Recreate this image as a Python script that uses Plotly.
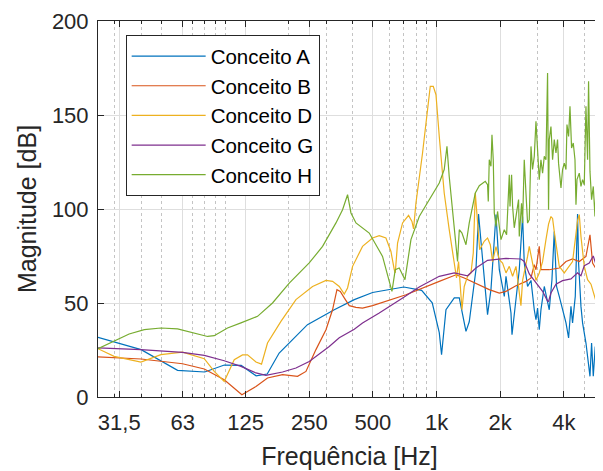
import math
import plotly.graph_objects as go

# ---------------- data ----------------
freq_A = [25, 40, 59.5, 80, 99, 119, 140, 158, 180, 245, 328, 408, 498, 700, 850, 954, 1030, 1056, 1108, 1213, 1281,
          1378, 1428, 1536, 1580, 1651, 1743, 1809, 1911, 1981, 2092, 2131, 2250, 2275, 2376, 2463, 2553, 2600, 2696,
          2798, 2900, 2954, 3006, 3062, 3119, 3234, 3414, 3516, 3606, 3697, 3807, 3947, 4097, 4215, 4325, 4401, 4533,
          4648, 4699, 4823, 4909, 5093, 5240, 5321, 5415, 5516, 5636, 5779, 5888, 5998]
mag_A = [31.7, 25.2, 14.2, 13.3, 17.0, 16.8, 11.3, 12.2, 23.4, 38.5, 46.4, 51.8, 55.6, 58.5, 56.7, 50.1, 34.2, 22.5, 46.4, 52.7, 52.7,
         34.9, 40.0, 67.7, 97.3, 71.3, 43.8, 57.1, 97.0, 67.7, 53.5, 64.2, 44.7, 33.1, 53.5, 67.7, 96.0, 71.3, 58.8,
         62.0, 46.4, 41.1, 47.3, 35.8, 46.4, 58.8, 46.4, 62.4, 88.0, 58.8, 53.5, 46.4, 39.4, 31.4, 48.2, 39.4, 53.5,
         97.3, 71.3, 48.2, 39.4, 28.7, 18.1, 11.0, 28.7, 11.0, 26.9, 13.6, 35.8, 34.0]

freq_B = [25, 40, 62.8, 79.6, 98.9, 119.9, 139.8, 158.5, 186.7, 219.9, 241, 268.7, 299.7, 322, 337.8, 350.3, 365.8,
          386.3, 415.6, 446.4, 497.8, 716.5, 1030, 1236, 1352, 1536, 1776, 1981, 2131, 2376, 2649, 2798, 2900, 2954,
          3062, 3119, 3414, 3807, 4097, 4401, 4735, 5093, 5321, 5474, 5779, 5888, 5933, 5998]
mag_B = [21.3, 20.2, 17.7, 14.9, 9.2, 1.2, 5.6, 10.1, 11.9, 11.0, 13.6, 25.2, 35.8, 46.4, 57.1, 56.2, 52.7,
         48.6, 47.7, 47.3, 48.6, 54.4, 61.5, 65.0, 63.3, 60.6, 57.1, 55.3, 56.2, 59.2, 61.5, 63.3, 70.4, 67.7,
         80.1, 67.7, 67.7, 68.6, 72.1, 73.4, 72.1, 74.8, 86.3, 71.3, 66.8, 81.9, 99.6, 90.0]

freq_D = [25, 29.8, 39.9, 49.6, 62.8, 79.6, 88.7, 98.9, 110.3, 120.7, 127.5, 139.8, 148.5, 158.5, 183.5, 216.1, 259,
          299.7, 322, 346.4, 365.8, 379.2, 400.5, 446.4, 497.8, 535.6, 576.1, 608.4, 630.7, 637.6, 653.8, 690.5, 737.1,
          764.9, 778.4, 798.9, 858.4, 906.6, 933.6, 964.7, 993.6, 1030, 1087, 1148, 1213, 1243, 1271, 1305, 1319, 1352,
          1402, 1455, 1492, 1525, 1563, 1600, 1681, 1743, 1796, 1841, 1911, 1981, 2053, 2131, 2209, 2290, 2376, 2444,
          2508, 2553, 2649, 2696, 2746, 2846, 2954, 3062, 3175, 3294, 3388, 3478, 3540, 3606, 3697, 3807, 4021, 4246,
          4401, 4533, 4648, 4735, 4823, 5000, 5183, 5380, 5577, 5680, 5779, 5888, 5998]
mag_D = [25.7, 21.6, 18.6, 22.5, 23.9, 20.4, 13.6, 8.3, 19.8, 22.4, 22.4, 18.6, 17.5, 28.7, 40.2, 51.8, 58.8,
         62.0, 61.5, 58.8, 54.8, 58.0, 69.5, 80.1, 84.6, 85.8, 84.6, 77.4, 67.7, 66.0, 81.9, 92.6, 96.6,
         93.4, 89.4, 103.2, 129.8, 154.6, 165.2, 165.2, 160.8, 138.6, 108.5, 89.0, 69.5, 63.3, 72.1, 57.1, 46.4, 58.8,
         64.2, 66.0, 76.6, 108.5, 94.3, 78.3, 82.8, 84.6, 81.0, 72.0, 80.0, 73.0, 71.3, 66.0, 69.5, 64.2, 69.5, 60.0,
         48.6, 62.0, 70.0, 74.8, 80.1, 72.0, 62.0, 66.0, 72.0, 83.7, 92.0, 96.0, 95.0, 88.0, 78.3, 69.5, 66.0, 69.5,
         72.0, 83.7, 94.0, 97.0, 85.4, 69.5, 62.4, 60.0, 53.5, 50.9, 60.6, 74.8, 70.0]

freq_G = [25, 39.9, 62.8, 79.6, 98.9, 118.7, 139.8, 155.8, 186.7, 216.1, 249.7, 310.6, 346.4, 408, 446.4, 535.6, 700,
          828, 1030, 1213, 1402, 1536, 1743, 2131, 2508, 2600, 2746, 2954, 3062, 3175, 3352, 3388, 3478, 3673, 3947,
          4325, 4648, 4823, 5000, 5280, 5516, 5680, 5998]
mag_G = [26.1, 25.2, 23.7, 22.1, 19.3, 16.3, 12.8, 11.5, 13.3, 15.4, 18.9, 26.9, 31.5, 36.0, 39.4, 44.7, 53.0,
         58.5, 64.2, 66.0, 64.5, 68.6, 72.7, 73.7, 73.4, 72.1, 65.5, 60.6, 58.8, 56.2, 51.0, 50.9, 55.3, 60.0, 61.9,
         62.8, 66.0, 64.5, 69.8, 71.3, 75.0, 70.4, 69.5]

freq_H = [25, 29.8, 35.1, 41.4, 49.6, 59.5, 71.3, 82.5, 88.7, 102.5, 118.7, 142.2, 167.4, 200.9, 249.7, 288.8, 334.2,
          359.1, 379.2, 393.5, 415.6, 480.2, 555.1, 615.1, 637.6, 666, 708.8, 756.5, 828.1, 923.7, 1030, 1087, 1120,
          1148, 1213, 1257, 1281, 1319, 1378, 1428, 1525, 1593, 1700, 1743, 1757, 1776, 1809, 1829, 1855, 1876, 1911,
          1944, 1981, 2018, 2092, 2145, 2209, 2226, 2265, 2290, 2332, 2376, 2444, 2463, 2525, 2553, 2600, 2649, 2696,
          2746, 2798, 2846, 2900, 2954, 3006, 3062, 3119, 3175, 3234, 3294, 3352, 3388, 3414, 3478, 3540, 3606, 3673,
          3737, 3778, 3879, 3947, 4021, 4097, 4141, 4215, 4279, 4354, 4435, 4519, 4568, 4618, 4735, 4823, 4909, 5000,
          5093, 5183, 5240, 5321, 5415, 5516, 5618, 5680, 5779, 5888, 5998]
mag_H = [25.7, 29.6, 33.5, 35.8, 36.7, 36.2, 34.0, 32.2, 32.6, 36.7, 39.4, 42.9, 50.0, 60.6, 71.3, 80.1, 92.6,
         99.6, 107.6, 97.9, 92.6, 87.2, 74.8, 56.2, 67.7, 68.6, 62.4, 83.7, 96.0, 105.0, 113.8, 121.0, 133.3,
         117.3, 90.7, 72.1, 89.0, 87.2, 81.0, 92.6, 108.5, 112.4, 114.7, 112.9, 104.0, 126.2, 122.7, 139.5, 126.2, 97.9, 90.7,
         98.7, 90.7, 83.7, 89.0, 86.3, 118.2, 101.4, 118.2, 101.4, 90.0, 95.2, 105.0, 85.4, 103.0, 92.5, 126.2, 108.5, 92.5,
         94.3, 133.3, 121.0, 128.0, 146.6, 131.5, 115.6, 126.2, 119.1, 128.0, 126.2, 172.3, 99.6, 136.9, 143.9, 126.2, 136.9, 129.8,
         136.9, 124.4, 111.2, 121.0, 124.4, 121.0, 144.9, 138.6, 154.6, 132.4, 135.1, 126.2, 102.3, 115.6, 119.1, 112.0, 115.6, 112.9,
         154.6, 126.2, 167.9, 120.0, 105.0, 112.0, 96.0, 112.0, 90.7, 112.0, 100.0]

names = ["Conceito A", "Conceito B", "Conceito D", "Conceito G", "Conceito H"]
colors = ["#0072BD", "#D95319", "#EDB120", "#7E2F8E", "#77AC30"]

tick_vals = [31.5, 63, 125, 250, 500, 1000, 2000, 4000]
tick_text = ["31,5", "63", "125", "250", "500", "1k", "2k", "4k"]
minor_vals = [30, 40, 50, 70, 80, 90, 100, 200, 300, 400, 600, 700, 800, 900, 3000, 5000]

# ---------------- figure ----------------
FONT = "Liberation Sans, Arial, sans-serif"
INK = "#262626"

fig = go.Figure()
series = [(freq_A, mag_A), (freq_B, mag_B), (freq_D, mag_D), (freq_G, mag_G), (freq_H, mag_H)]
for (fx, fy), nm, col in zip(series, names, colors):
    fig.add_trace(go.Scatter(x=fx, y=fy, mode="lines", name=nm, legendgroup=nm,
                             line=dict(color=col, width=1.2)))

# the page body has an 8px margin, so the figure is sized/positioned to compensate
fig.update_layout(
    width=595, height=463,
    margin=dict(l=90, r=2, t=13, b=74, autoexpand=False),
    paper_bgcolor="white", plot_bgcolor="white",
    font=dict(family=FONT, color=INK),
    showlegend=True,
    legend=dict(x=0.055, y=0.962, xanchor="left", yanchor="top",
                bgcolor="white", bordercolor=INK, borderwidth=1,
                font=dict(size=20.5, family=FONT, color="black"),
                traceorder="grouped", tracegroupgap=0, itemwidth=74),
    xaxis=dict(type="log", range=[math.log10(25), math.log10(6000)], automargin=False,
               tickmode="array", tickvals=tick_vals, ticktext=tick_text,
               tickfont=dict(size=22, family=FONT, color=INK),
               ticks="inside", ticklen=6, tickcolor=INK, tickwidth=1,
               showline=True, linecolor=INK, linewidth=1, mirror="allticks",
               showgrid=True, gridcolor="#dedede", gridwidth=1,
               zeroline=False, ticklabelstandoff=6,
               minor=dict(tickmode="array", tickvals=minor_vals, ticks="inside", ticklen=3,
                          tickcolor=INK, showgrid=True, gridcolor="#c4c4c4", griddash="dot", gridwidth=1),
               title=dict(text="Frequência [Hz]", font=dict(size=25, family=FONT, color=INK), standoff=13)),
    yaxis=dict(range=[0, 200], automargin=False, tickmode="array", tickvals=[0, 50, 100, 150, 200],
               tickfont=dict(size=22, family=FONT, color=INK),
               ticks="inside", ticklen=6, tickcolor=INK, tickwidth=1,
               showline=True, linecolor=INK, linewidth=1, mirror="allticks",
               showgrid=True, gridcolor="#dedede", gridwidth=1,
               zeroline=False, ticklabelstandoff=4,
               title=dict(text="Magnitude [dB]", font=dict(size=25, family=FONT, color=INK), standoff=8)),
)

fig.write_html("out.html")
